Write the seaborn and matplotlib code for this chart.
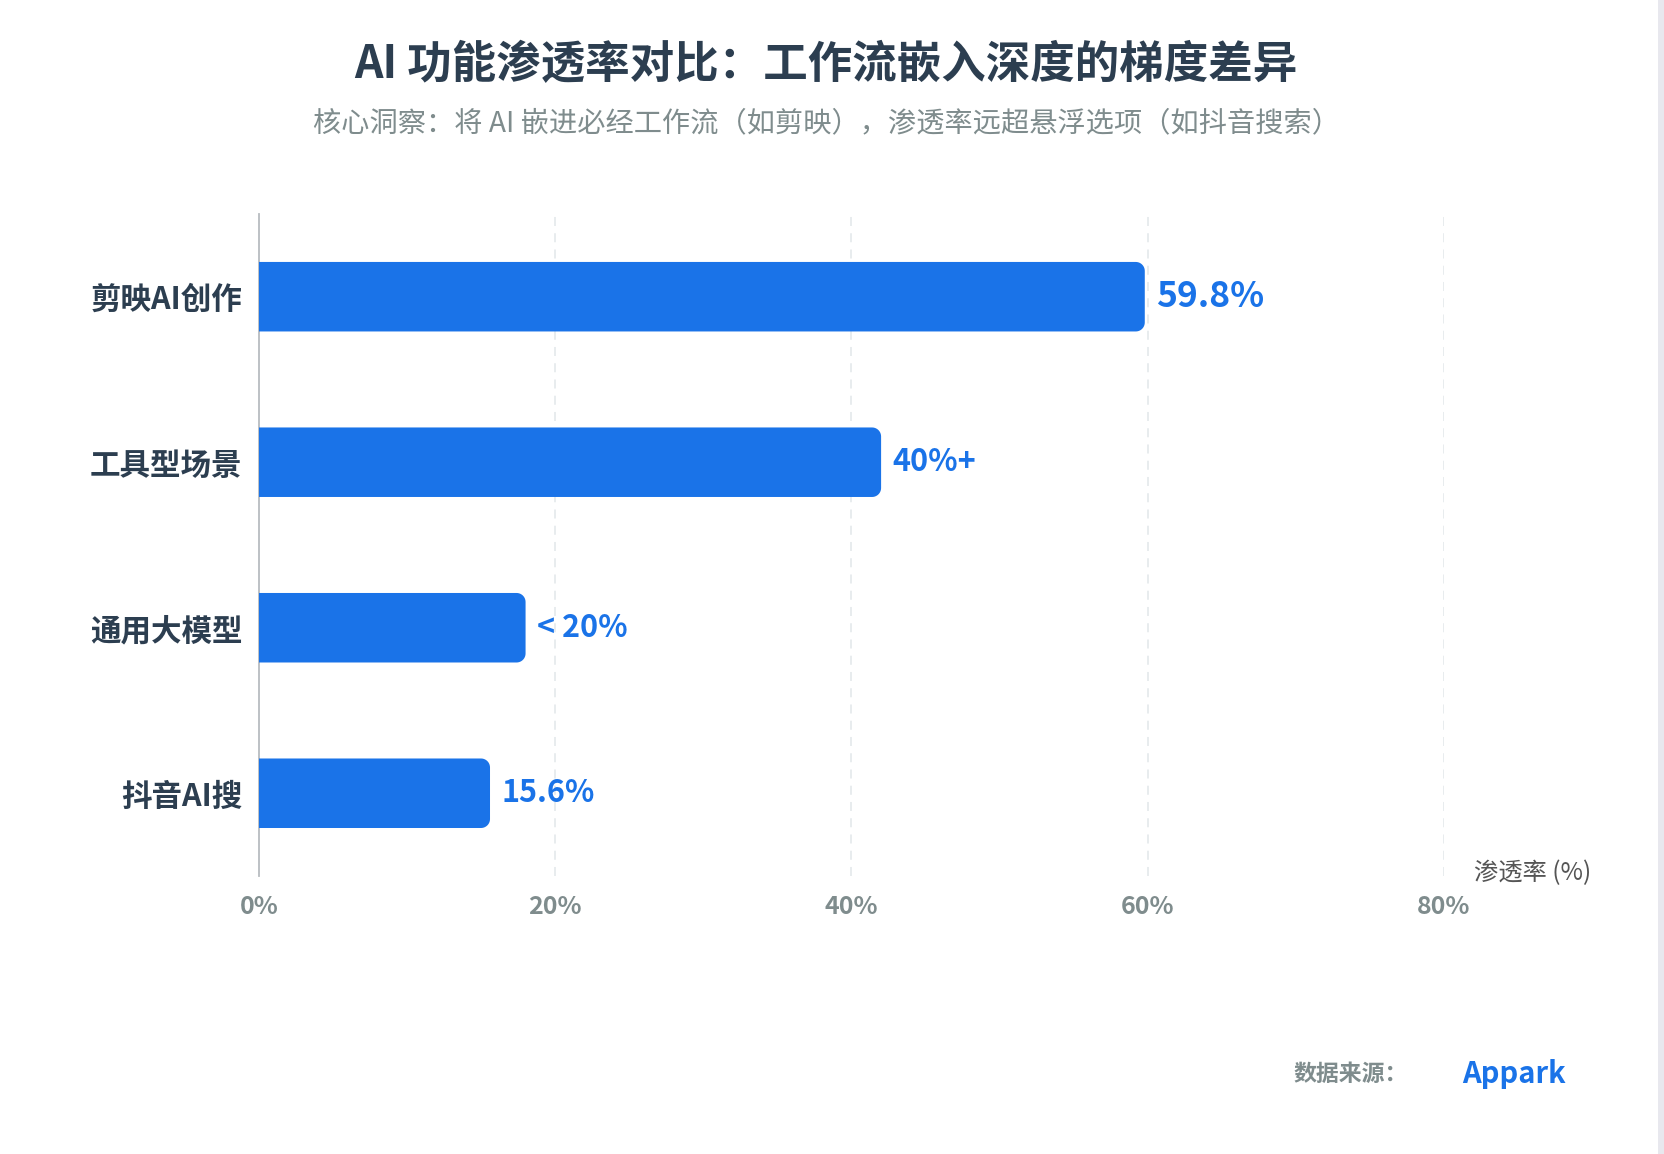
import matplotlib
matplotlib.use("Agg")
import numpy as np
import matplotlib.pyplot as plt
import seaborn as sns
from matplotlib.patches import PathPatch, Rectangle
from matplotlib.path import Path

# data
categories = ["剪映AI创作", "工具型场景", "通用大模型", "抖音AI搜"]
values = [59.8, 42, 18, 15.6]
value_labels = ["59.8%", "40%+", "< 20%", "15.6%"]
x_ticks = [0, 20, 40, 60, 80]
x_tick_labels = ["0%", "20%", "40%", "60%", "80%"]

title = "AI 功能渗透率对比：工作流嵌入深度的梯度差异"
subtitle = "核心洞察：将 AI 嵌进必经工作流（如剪映），渗透率远超悬浮选项（如抖音搜索）"

BLUE = "#1a73e8"
DARK = "#2c3e50"
GREY = "#7f8c8d"

sns.set_theme(style="white")
plt.rcParams["font.family"] = ["Noto Sans CJK SC", "DejaVu Sans"]

fig = plt.figure(figsize=(16.64, 11.54), dpi=100)
ax = fig.add_axes([0.1556, 0.2409, 0.7122, 0.5737])

sns.barplot(x=values, y=categories, color=BLUE, width=0.42, orient="h",
            ax=ax, saturation=1)

ax.set_xlim(0, 80)
ax.set_ylim(3.5, -0.5)

# round the right ends of the bars (one path per bar)
fig.canvas.draw()
p0 = ax.transData.transform((0, 0))
p1 = ax.transData.transform((1, 1))
r_px = 9
rx = r_px / abs(p1[0] - p0[0])
ry = r_px / abs(p1[1] - p0[1])


def right_rounded(x, y, w, h):
    # y is the top edge in data units (axis inverted), y + h the bottom edge
    t = np.linspace(0, np.pi / 2, 12)
    xe = x + w
    pts = [(x, y)]
    # top-right corner
    pts += [(xe - rx + rx * np.sin(a), y + ry - ry * np.cos(a)) for a in t]
    # bottom-right corner
    pts += [(xe - rx + rx * np.cos(a), y + h - ry + ry * np.sin(a)) for a in t]
    pts += [(x, y + h), (x, y)]
    return Path(pts, closed=True)


for bar in list(ax.patches):
    x, y = bar.get_x(), bar.get_y()
    w, h = bar.get_width(), bar.get_height()
    bar.remove()
    ax.add_patch(PathPatch(right_rounded(x, y, w, h), fc=BLUE, ec="none",
                           zorder=3))

# value labels
for i, (v, lab) in enumerate(zip(values, value_labels)):
    size = 25.5 if i == 0 else 22
    ax.annotate(lab, (v, i), xytext=(8, 0), textcoords="offset points",
                va="center", ha="left", fontsize=size, fontweight="bold",
                color=BLUE, zorder=4)

# axes styling
ax.set_xticks(x_ticks)
ax.set_xticklabels(x_tick_labels, fontsize=18, fontweight="bold", color=GREY)
ax.tick_params(axis="x", length=0, pad=14)
ax.tick_params(axis="y", length=0, pad=12)
for t in ax.get_yticklabels():
    t.set_fontsize(22)
    t.set_fontweight("bold")
    t.set_color(DARK)

for xv in x_ticks[1:]:
    ax.axvline(xv, color="#e6eaed", lw=1.3, ls=(0, (5, 4)), zorder=1)

for s in ["top", "right", "bottom"]:
    ax.spines[s].set_visible(False)
ax.spines["left"].set_color("#b8bcc0")
ax.spines["left"].set_linewidth(1.3)
ax.set_xlabel("")
ax.set_ylabel("")

# axis name at the end of x axis
ax.text(1.025, 0.005, "渗透率 (%)", transform=ax.transAxes, ha="left",
        va="center", fontsize=17.5, color="#555555")

# titles
fig.text(0.4965, 0.944, title, ha="center", va="center", fontsize=32,
         fontweight="bold", color=DARK)
fig.text(0.4965, 0.8935, subtitle, ha="center", va="center", fontsize=20.3,
         color=GREY)

# footer
fig.text(0.7776, 0.069, "数据来源：", ha="left", va="center", fontsize=16.5,
         fontweight="bold", color=GREY)
fig.text(0.8786, 0.069, "Appark", ha="left", va="center", fontsize=21,
         fontweight="bold", color=BLUE)

# light strip at right edge
fig.patches.append(Rectangle((0.9964, 0), 0.0036, 1, transform=fig.transFigure,
                             fc="#e8e8ee", ec="none"))

fig.savefig("out.png", dpi=100)
